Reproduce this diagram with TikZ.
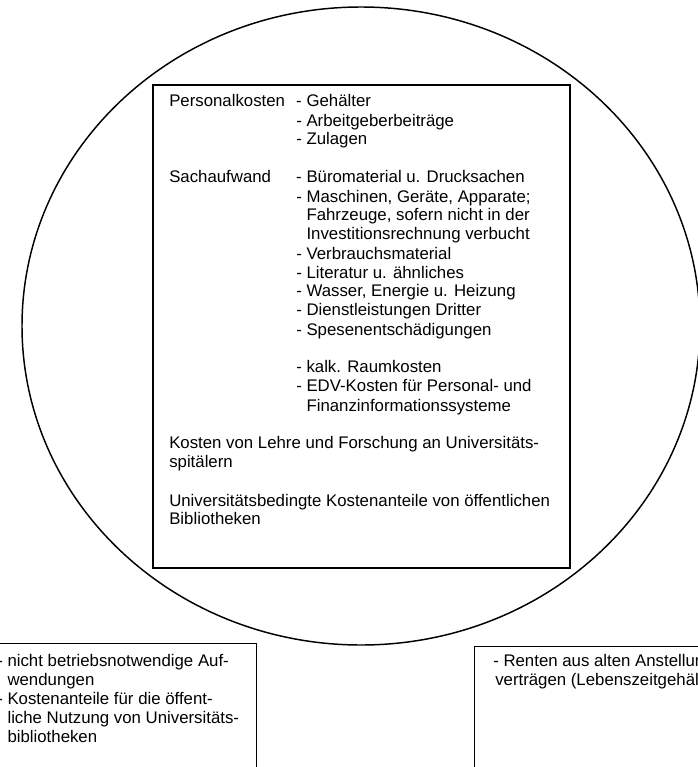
\documentclass[tikz,border=0pt]{standalone}
\usepackage{fontspec}
\setmainfont{Liberation Sans}
\usepackage{array}
\tikzset{rahmen/.style = {draw, line width = 1.1pt}}
\tikzset{kasten/.style = {draw, line width = 0.7pt}}
\tikzset{liste/.style = {anchor = base west, inner sep = 0,
                         font = \fontsize{12.6}{14.25}\selectfont}}
\newcommand{\einzug}{\hphantom{- }}

\begin{document}
\begin{tikzpicture}[x=0.75pt, y=-0.75pt]
  \useasboundingbox (0, 0) rectangle (698, 767);
  \clip (0, 0) rectangle (698, 767);
  \draw [rahmen] (361, 326) ellipse [x radius = 339, y radius = 319];
  \draw [rahmen] (153, 85) rectangle (570, 568);
  \draw [kasten] (-10, 643) rectangle (256, 780);
  \draw [kasten] (474, 646) rectangle (710, 780);
  % Inhalt des Rahmens
  \node [liste] (kosten) at (169, 107) {%
    \begin{tabular}[t]{@{}p{95.25pt}@{}l@{}}
      Personalkosten & - Gehälter \\
                     & - Arbeitgeberbeiträge \\
                     & - Zulagen \\
                     & \\
      Sachaufwand    & - Büromaterial u. Drucksachen \\
                     & - Maschinen, Geräte, Apparate; \\
                     & \einzug Fahrzeuge, sofern nicht in der \\
                     & \einzug Investitionsrechnung verbucht \\
                     & - Verbrauchsmaterial \\
                     & - Literatur u. ähnliches \\
                     & - Wasser, Energie u. Heizung \\
                     & - Dienstleistungen Dritter \\
                     & - Spesenentschädigungen \\
                     & \\
                     & - kalk. Raumkosten \\
                     & - EDV-Kosten für Personal- und \\
                     & \einzug Finanzinformationssysteme \\
                     & \\
      \multicolumn{2}{@{}l@{}}{Kosten von Lehre und Forschung an Universitäts-} \\
      \multicolumn{2}{@{}l@{}}{spitälern} \\
                     & \\
      \multicolumn{2}{@{}l@{}}{Universitätsbedingte Kostenanteile von öffentlichen} \\
      \multicolumn{2}{@{}l@{}}{Bibliotheken}
    \end{tabular}};
  % die beiden Kaesten unten
  \node [liste] (links) at (-3, 666) {%
    \begin{tabular}[t]{@{}l@{}}
      - nicht betriebsnotwendige Auf- \\
      \einzug wendungen \\
      - Kostenanteile für die öffent- \\
      \einzug liche Nutzung von Universitäts- \\
      \einzug bibliotheken
    \end{tabular}};
  \node [liste] (rechts) at (493, 666) {%
    \begin{tabular}[t]{@{}l@{}}
      - Renten aus alten Anstellungs- \\
      \hspace*{1.5pt}verträgen (Lebenszeitgehälter)
    \end{tabular}};
\end{tikzpicture}
\end{document}
